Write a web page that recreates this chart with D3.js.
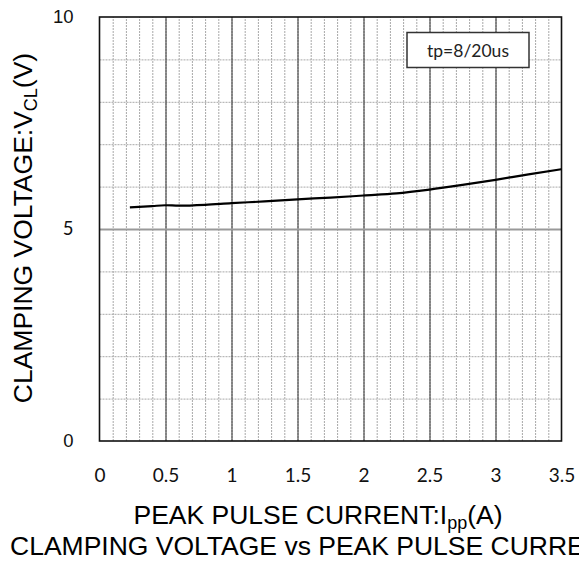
<!DOCTYPE html>
<html>
<head>
<meta charset="utf-8">
<script src="https://cdn.jsdelivr.net/npm/d3@7"></script>
<style>
  body { margin: 0; background: #fff; }
  svg { display: block; }
</style>
</head>
<body>
<script>
// peak pulse current (A) vs clamping voltage (V)
const current = [0.23, 0.4, 0.5, 0.6, 0.8, 1.0, 1.25, 1.5, 1.75, 2.0, 2.25, 2.5, 2.75, 3.0, 3.25, 3.5];
const voltage = [5.51, 5.54, 5.56, 5.55, 5.57, 5.61, 5.65, 5.70, 5.74, 5.79, 5.84, 5.93, 6.04, 6.16, 6.29, 6.41];
const xTicks = [0, 0.5, 1, 1.5, 2, 2.5, 3, 3.5];
const yTicks = [0, 5, 10];
const legendText = "tp=8/20us";

const width = 579, height = 565;
const margin = {left: 99.5, right: 561.5, top: 17, bottom: 441};

const svg = d3.select("body").append("svg")
    .attr("width", width)
    .attr("height", height);

const x = d3.scaleLinear().domain([0, 3.5]).range([margin.left, margin.right]);
const y = d3.scaleLinear().domain([0, 10]).range([margin.bottom, margin.top]);

const plotH = margin.bottom - margin.top,
    plotW = margin.right - margin.left;

// minor grid
svg.append("g")
    .attr("transform", `translate(0,${margin.bottom})`)
    .call(d3.axisBottom(x).tickValues(d3.range(1, 35).map(d => d / 10)).tickSize(-plotH).tickFormat(""))
    .call(g => g.select(".domain").remove())
    .selectAll("line")
    .attr("stroke", "#a8a8a8")
    .attr("stroke-dasharray", "2,1");

svg.append("g")
    .attr("transform", `translate(${margin.left},0)`)
    .call(d3.axisLeft(y).tickValues(d3.range(1, 10)).tickSize(-plotW).tickFormat(""))
    .call(g => g.select(".domain").remove())
    .selectAll("line")
    .attr("stroke", "#a8a8a8")
    .attr("stroke-dasharray", "2,1");

// major grid
svg.append("g")
    .attr("transform", `translate(0,${margin.bottom})`)
    .call(d3.axisBottom(x).tickValues([0.5, 1, 1.5, 2, 2.5, 3]).tickSize(-plotH).tickFormat(""))
    .call(g => g.select(".domain").remove())
    .selectAll("line")
    .attr("stroke", "#333");

svg.append("g")
    .attr("transform", `translate(${margin.left},0)`)
    .call(d3.axisLeft(y).tickValues([5]).tickSize(-plotW).tickFormat(""))
    .call(g => g.select(".domain").remove())
    .selectAll("line")
    .attr("stroke", "#999")
    .attr("stroke-width", 2);

// frame
svg.append("rect")
    .attr("x", margin.left)
    .attr("y", margin.top)
    .attr("width", plotW)
    .attr("height", plotH)
    .attr("fill", "none")
    .attr("stroke", "#111")
    .attr("stroke-width", 1.6);

// tick labels
svg.append("g")
    .attr("transform", `translate(0,${margin.bottom + 24})`)
    .call(d3.axisBottom(x).tickValues(xTicks).tickSize(0).tickFormat(d => d))
    .call(g => g.select(".domain").remove())
    .selectAll("text")
    .attr("font-family", "Lato, 'Open Sans', sans-serif")
    .attr("font-size", 19)
    .attr("fill", "#111");

svg.append("g")
    .attr("transform", `translate(${margin.left - 23},0)`)
    .call(d3.axisLeft(y).tickValues(yTicks).tickSize(0).tickFormat(d => d))
    .call(g => g.select(".domain").remove())
    .selectAll("text")
    .attr("font-family", d => d === 5 ? "Lato, sans-serif" : "'Liberation Sans', Arial, sans-serif")
    .attr("font-size", 18.5)
    .attr("fill", "#111");

// curve
const line = d3.line()
    .x((d, i) => x(current[i]))
    .y(d => y(d))
    .curve(d3.curveMonotoneX);

svg.append("path")
    .datum(voltage)
    .attr("d", line)
    .attr("fill", "none")
    .attr("stroke", "#000")
    .attr("stroke-width", 2.2);

// legend box
svg.append("rect")
    .attr("x", 407)
    .attr("y", 32.5)
    .attr("width", 122)
    .attr("height", 35)
    .attr("fill", "#fff")
    .attr("stroke", "#333")
    .attr("stroke-width", 1.5);

svg.append("text")
    .attr("x", 468)
    .attr("y", 56.5)
    .attr("text-anchor", "middle")
    .attr("font-family", "Lato, sans-serif")
    .attr("font-size", 17.5)
    .attr("fill", "#222")
    .text(legendText);

// axis titles
const font = "'Liberation Sans', Arial, sans-serif";

const xt = svg.append("text")
    .attr("x", 318)
    .attr("y", 524)
    .attr("text-anchor", "middle")
    .attr("font-family", font)
    .attr("font-size", 26.5)
    .attr("fill", "#000");
xt.append("tspan").text("PEAK PULSE CURRENT:I");
xt.append("tspan").attr("font-size", 18).attr("dy", 5).text("pp");
xt.append("tspan").attr("dy", -5).text("(A)");

const yt = svg.append("text")
    .attr("transform", "translate(32,228) rotate(-90)")
    .attr("text-anchor", "middle")
    .attr("font-family", font)
    .attr("font-size", 26.5)
    .attr("fill", "#000");
yt.append("tspan").text("CLAMPING VOLTAGE:V");
yt.append("tspan").attr("font-size", 18).attr("dy", 5).text("CL");
yt.append("tspan").attr("dy", -5).text("(V)");

svg.append("text")
    .attr("x", 10)
    .attr("y", 555)
    .attr("font-family", font)
    .attr("font-size", 26.5)
    .attr("fill", "#000")
    .text("CLAMPING VOLTAGE vs PEAK PULSE CURRENT");
</script>
</body>
</html>
